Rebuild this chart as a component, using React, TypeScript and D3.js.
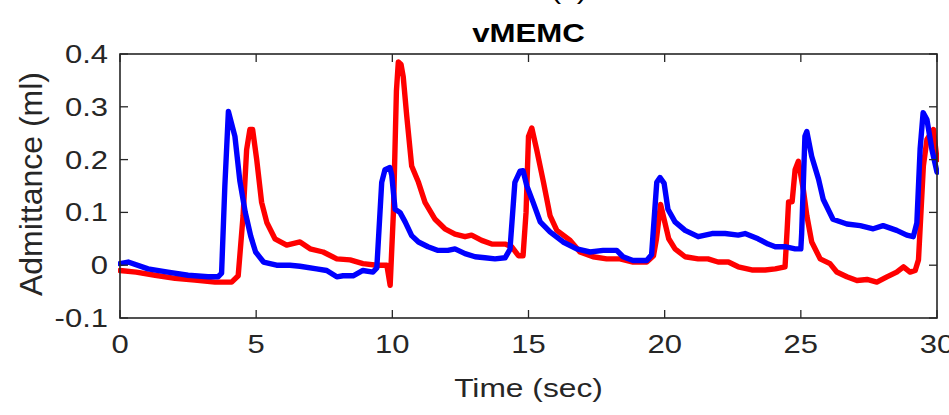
import React from "react";
import * as d3 from "d3";

const title = "vMEMC";
const panelTag = "(c)";
const xLabel = "Time (sec)";
const yLabel = "Admittance (ml)";
const xTicks = [0, 5, 10, 15, 20, 25, 30];
const yTicks = [-0.1, 0, 0.1, 0.2, 0.3, 0.4];
const yTickLabels = ["-0.1", "0", "0.1", "0.2", "0.3", "0.4"];

const redTime = [0, 0.59, 1.29, 2.02, 2.75, 3.49, 4.1, 4.34, 4.52, 4.65, 4.77, 4.87, 5.02, 5.2, 5.39, 5.69, 6.12, 6.61, 6.98, 7.46, 7.96, 8.45, 8.92, 9.43, 9.8, 9.92, 10.04, 10.15, 10.22, 10.32, 10.4, 10.53, 10.71, 10.96, 11.2, 11.57, 11.93, 12.3, 12.67, 12.91, 13.28, 13.65, 14.14, 14.38, 14.63, 14.8, 14.91, 15.0, 15.12, 15.3, 15.55, 15.79, 16.04, 16.53, 16.89, 17.37, 17.87, 18.36, 18.84, 19.34, 19.59, 19.7, 19.85, 20.15, 20.38, 20.75, 21.23, 21.59, 21.96, 22.34, 22.7, 23.2, 23.69, 24.06, 24.42, 24.5, 24.55, 24.68, 24.79, 24.91, 25.09, 25.22, 25.4, 25.71, 26.07, 26.32, 26.69, 27.06, 27.43, 27.79, 28.16, 28.52, 28.77, 29.01, 29.2, 29.32, 29.5, 29.63, 29.87, 30.0];
const redValue = [-0.01, -0.013, -0.019, -0.025, -0.028, -0.032, -0.032, -0.02, 0.094, 0.219, 0.257, 0.257, 0.2, 0.119, 0.081, 0.05, 0.038, 0.044, 0.031, 0.025, 0.012, 0.01, 0.003, 0.0, 0.0, -0.038, 0.1, 0.33, 0.385, 0.38, 0.357, 0.282, 0.188, 0.157, 0.119, 0.087, 0.069, 0.059, 0.054, 0.057, 0.047, 0.04, 0.04, 0.035, 0.018, 0.018, 0.1, 0.244, 0.26, 0.219, 0.157, 0.094, 0.066, 0.047, 0.025, 0.016, 0.012, 0.012, 0.006, 0.006, 0.018, 0.05, 0.115, 0.05, 0.031, 0.016, 0.012, 0.012, 0.006, 0.006, -0.003, -0.009, -0.009, -0.007, -0.003, 0.07, 0.12, 0.12, 0.181, 0.197, 0.144, 0.094, 0.044, 0.012, 0.003, -0.013, -0.022, -0.029, -0.027, -0.032, -0.022, -0.013, -0.003, -0.013, -0.01, 0.01, 0.188, 0.238, 0.257, 0.2];

const blueTime = [0, 0.3, 1.03, 1.76, 2.5, 3.23, 3.6, 3.73, 3.85, 3.98, 4.22, 4.4, 4.6, 4.8, 4.98, 5.27, 5.75, 6.24, 6.61, 7.22, 7.59, 7.96, 8.19, 8.56, 8.92, 9.29, 9.43, 9.61, 9.73, 9.91, 9.98, 10.1, 10.28, 10.47, 10.71, 10.96, 11.31, 11.68, 12.04, 12.3, 12.67, 13.04, 13.4, 13.77, 14.14, 14.32, 14.5, 14.69, 14.8, 14.94, 15.17, 15.43, 15.79, 16.27, 16.77, 17.26, 17.74, 18.24, 18.47, 18.84, 19.34, 19.52, 19.71, 19.83, 19.98, 20.12, 20.38, 20.75, 21.23, 21.74, 22.22, 22.7, 22.95, 23.43, 23.8, 24.06, 24.42, 24.79, 25.0, 25.03, 25.15, 25.22, 25.4, 25.65, 25.82, 26.18, 26.69, 27.18, 27.66, 28.02, 28.52, 28.89, 29.13, 29.26, 29.38, 29.49, 29.63, 29.81, 30.0];
const blueValue = [0.003, 0.006, -0.007, -0.013, -0.019, -0.022, -0.022, -0.015, 0.15, 0.291, 0.244, 0.16, 0.1, 0.055, 0.025, 0.006, 0.0, 0.0, -0.002, -0.007, -0.01, -0.022, -0.02, -0.02, -0.01, -0.013, -0.005, 0.157, 0.181, 0.185, 0.17, 0.106, 0.1, 0.082, 0.056, 0.044, 0.035, 0.028, 0.028, 0.031, 0.022, 0.016, 0.014, 0.012, 0.014, 0.03, 0.157, 0.178, 0.179, 0.15, 0.119, 0.082, 0.063, 0.044, 0.031, 0.025, 0.028, 0.028, 0.016, 0.009, 0.009, 0.02, 0.157, 0.166, 0.155, 0.106, 0.082, 0.066, 0.054, 0.06, 0.06, 0.057, 0.06, 0.05, 0.04, 0.035, 0.035, 0.031, 0.031, 0.06, 0.244, 0.253, 0.206, 0.163, 0.125, 0.087, 0.078, 0.075, 0.069, 0.075, 0.066, 0.057, 0.054, 0.08, 0.22, 0.289, 0.276, 0.22, 0.176];

const W = 949;
const H = 415;
const left = 120;
const right = 937;
const top = 54;
const bottom = 318;
const axisColor = "#262626";
const font = "'Liberation Sans', Arial, Helvetica, sans-serif";

export default function App() {
  const x = d3.scaleLinear().domain([0, 30]).range([left, right]);
  const y = d3.scaleLinear().domain([-0.1, 0.4]).range([bottom, top]);
  const line = d3
    .line<[number, number]>()
    .x((d) => x(d[0]))
    .y((d) => y(d[1]))
    .curve(d3.curveLinear);
  const redPts = redTime.map((t, i) => [t, redValue[i]] as [number, number]);
  const bluePts = blueTime.map((t, i) => [t, blueValue[i]] as [number, number]);
  const tickLen = 8;
  const sx = 1.24;

  return (
    <svg
      width={W}
      height={H}
      style={{ position: "absolute", left: 0, top: 0, display: "block", background: "#fff" }}
    >
      <rect x={0} y={0} width={W} height={H} fill="#fff" />
      <defs>
        <clipPath id="plotclip">
          <rect x={left - 2} y={top} width={right - left + 4} height={bottom - top} />
        </clipPath>
      </defs>
      <g clipPath="url(#plotclip)">
        <path d={line(redPts) || ""} fill="none" stroke="#ff0000" strokeWidth={5.4} strokeLinejoin="round" strokeLinecap="round" />
        <path d={line(bluePts) || ""} fill="none" stroke="#0000ff" strokeWidth={5.4} strokeLinejoin="round" strokeLinecap="round" />
      </g>
      {/* box */}
      <rect x={left} y={top} width={right - left} height={bottom - top} fill="none" stroke={axisColor} strokeWidth={1.6} />
      {/* x ticks */}
      {xTicks.map((t) => (
        <g key={"xt" + t}>
          <line x1={x(t)} x2={x(t)} y1={bottom} y2={bottom - tickLen} stroke={axisColor} strokeWidth={1.3} />
          <line x1={x(t)} x2={x(t)} y1={top} y2={top + tickLen} stroke={axisColor} strokeWidth={1.3} />
          <g transform={`translate(${x(t)},353) scale(${sx},1)`}>
            <text x={0} y={0} textAnchor="middle" fontFamily={font} fontSize={25} fill={axisColor}>
              {String(t)}
            </text>
          </g>
        </g>
      ))}
      {/* y ticks */}
      {yTicks.map((v, i) => (
        <g key={"yt" + v}>
          <line x1={left} x2={left + tickLen} y1={y(v)} y2={y(v)} stroke={axisColor} strokeWidth={1.3} />
          <line x1={right} x2={right - tickLen} y1={y(v)} y2={y(v)} stroke={axisColor} strokeWidth={1.3} />
          <g transform={`translate(108,${y(v) + 9}) scale(${sx},1)`}>
            <text x={0} y={0} textAnchor="end" fontFamily={font} fontSize={25} fill={axisColor}>
              {yTickLabels[i]}
            </text>
          </g>
        </g>
      ))}
      {/* cut-off panel tag above title */}
      <g transform={`translate(569,-1) scale(1.2,1)`}>
        <text x={0} y={0} textAnchor="middle" fontFamily={font} fontSize={26} fill="#000">
          {panelTag}
        </text>
      </g>
      {/* title */}
      <g transform={`translate(${(left + right) / 2},42) scale(1.2,1)`}>
        <text x={0} y={0} textAnchor="middle" fontFamily={font} fontSize={26} fontWeight="bold" fill="#000">
          {title}
        </text>
      </g>
      {/* x label */}
      <g transform={`translate(${(left + right) / 2},397) scale(1.27,1)`}>
        <text x={0} y={0} textAnchor="middle" fontFamily={font} fontSize={25} fill={axisColor}>
          {xLabel}
        </text>
      </g>
      {/* y label */}
      <text
        transform={`translate(42,184) rotate(-90)`}
        textAnchor="middle"
        fontFamily={font}
        fontSize={32}
        fill={axisColor}
      >
        {yLabel}
      </text>
    </svg>
  );
}
